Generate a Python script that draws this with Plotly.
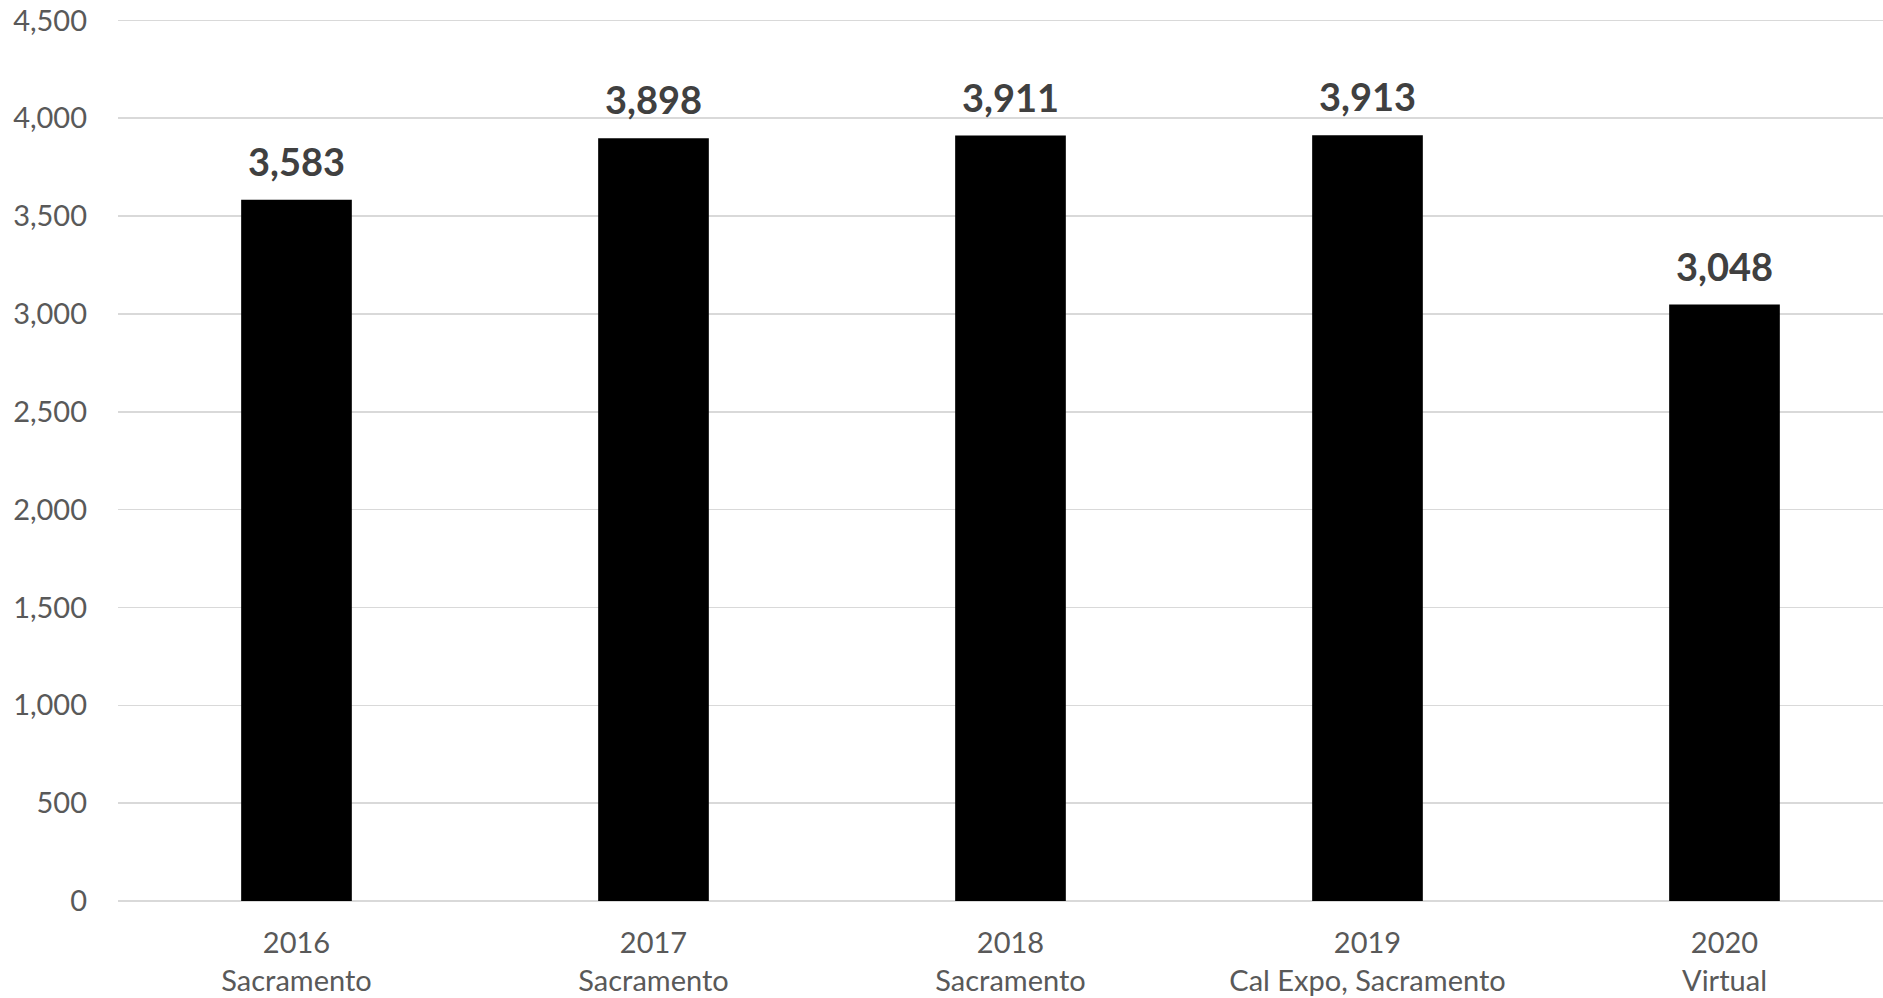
import plotly.graph_objects as go

years = ["2016", "2017", "2018", "2019", "2020"]
locations = ["Sacramento", "Sacramento", "Sacramento", "Cal Expo, Sacramento", "Virtual"]
attendance = [3583, 3898, 3911, 3913, 3048]
y_ticks = [0, 500, 1000, 1500, 2000, 2500, 3000, 3500, 4000, 4500]

categories = [f"{y}<br>{l}" for y, l in zip(years, locations)]

FONT = "Lato"

fig = go.Figure()
fig.add_trace(go.Bar(
    x=categories,
    y=attendance,
    width=0.31,
    marker=dict(color="#000000", line=dict(width=0)),
    hoverinfo="skip",
))

for c, v in zip(categories, attendance):
    fig.add_annotation(
        x=c, y=v, text=f"{v:,}", showarrow=False,
        yanchor="bottom", yshift=14,
        font=dict(family=FONT, size=38, color="#404040", weight="bold"),
    )

fig.update_layout(
    width=1883, height=998,
    margin=dict(l=118, r=0, t=18, b=97, autoexpand=False),
    paper_bgcolor="white", plot_bgcolor="white",
    showlegend=False,
    font=dict(family=FONT, size=29, color="#595959"),
)
fig.update_xaxes(
    type="category",
    range=[-0.5, 4.444],
    showgrid=False, showline=False, zeroline=False,
    ticks="", ticklabelstandoff=22, automargin=False,
    tickfont=dict(family=FONT, size=29, color="#595959"),
)
fig.update_yaxes(
    range=[0, 4512],
    tickvals=y_ticks,
    ticktext=[f"{t:,}" for t in y_ticks],
    showgrid=True, gridcolor="#d9d9d9", gridwidth=1.5,
    zeroline=True, zerolinecolor="#d9d9d9", zerolinewidth=1.5,
    showline=False, ticks="", ticklabelstandoff=30,
    ticklabeloverflow="allow", automargin=False,
    tickfont=dict(family=FONT, size=29, color="#595959"),
)

fig.write_html(
    "out.html",
    config={"displayModeBar": False, "staticPlot": True},
    post_script="document.body.style.margin='0';document.body.style.overflow='hidden';",
)
